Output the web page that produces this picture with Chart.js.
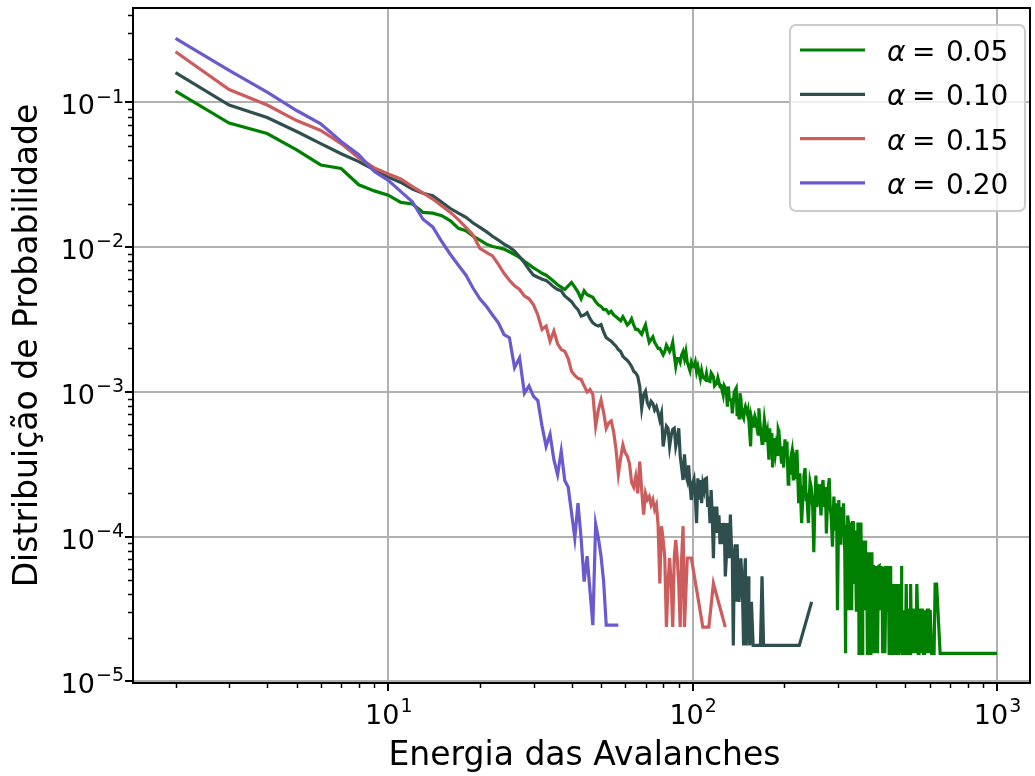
<!DOCTYPE html>
<html>
<head>
<meta charset="utf-8">
<script src="https://cdn.jsdelivr.net/npm/chart.js@4.4.0/dist/chart.umd.min.js"></script>
<style>
  html, body { margin: 0; padding: 0; background: #fff; }
  #wrap { width: 1035px; height: 776px; position: relative; }
</style>
</head>
<body>
<div id="wrap"><canvas id="avalanche"></canvas></div>
<script>
// --- DATA: [energia, probabilidade] per alpha ---
const serieA005 = [
  [2,0.120],[3,0.072],[4,0.061],[5,0.047],[6,0.037],[7,0.035],[8,0.027],[9,0.0245],[10,0.0229],
  [11,0.0204],[12,0.0199],[13,0.0174],[14,0.0172],[15,0.0165],[16,0.0152],[17,0.0135],[18,0.0130],
  [19,0.0119],[20,0.0112],[21,0.0105],[22,0.0101],[23,0.0099],[24,0.0097],[25,0.0093],[26,0.0089],
  [27,0.0085],[28,0.0080],[29,0.0076],[30,0.0072],[31,0.0069],[32,0.0066],[33,0.0064],[34,0.0061],
  [35,0.0058],[36,0.0055],[37,0.0053],[38,0.0051],[39,0.0054],[40,0.0057],[41,0.0053],[42,0.0049],
  [43,0.0044],[44,0.0050],[45,0.0047],[46,0.0046],[47,0.0045],[48,0.0042],[49,0.0040],[50,0.0039],
  [51,0.0037],[52,0.0037],[53,0.0035],[54,0.0036],[55,0.0034],[56,0.0033],[57,0.0032],[58,0.0031],
  [59,0.0033],[60,0.0031],[61,0.0029],[62,0.0030],[63,0.0032],[64,0.0029],[65,0.0027],[66,0.0027],
  [67,0.0026],[68,0.0025],[69,0.0027],[70,0.0029],[71,0.0025],[72,0.0022],[73,0.0023],[74,0.0024],
  [75,0.0022],[76,0.0021],[77,0.0020],[78,0.0020],[79,0.0019],[80,0.0018],[81,0.0019],[82,0.0021],
  [83,0.0020],[84,0.0019],[85,0.0020],[86,0.0022],[87,0.0018],[88,0.0015],[89,0.0017],[90,0.0017],
  [91,0.0016],[92,0.0018],[93,0.0019],[94,0.0017],[95,0.0019],[96,0.0016],[97,0.0015],[98,0.0014],
  [99,0.0016],[100,0.0015],[101,0.00149],[102,0.0016],[103,0.00138],[104,0.0015],[106,0.00124],
  [107,0.0014],[108,0.00127],[110,0.00122],[111,0.00134],[112,0.0012],[114,0.00118],[115,0.00135],
  [117,0.00127],[118,0.0011],[120,0.00115],[121,0.00125],[123,0.00109],[124,0.0011],[126,0.00095],
  [127,0.0011],[129,0.00103],[130,0.00079],[131,0.00109],[132,0.00088],[134,0.00088],[135,0.00071],
  [137,0.00100],[139,0.00106],[140,0.00068],[141,0.00090],[142,0.00066],[143,0.00098],[144,0.00090],
  [145,0.00071],[147,0.00066],[148,0.00075],[149,0.00079],[151,0.00071],[152,0.00075],[153,0.00064],
  [155,0.00042],[156,0.00066],[158,0.00058],[159,0.00064],[160,0.00068],[162,0.00062],[163,0.00055],
  [164,0.00051],[165,0.00077],[167,0.00055],[169,0.00044],[170,0.00047],[172,0.00064],[173,0.00058],
  [174,0.00045],[176,0.00052],[178,0.00034],[179,0.00056],[181,0.00041],[182,0.00052],[183,0.00030],
  [185,0.00048],[187,0.00038],[188,0.00042],[190,0.00036],[191,0.00055],[192,0.00053],[194,0.00040],
  [196,0.00032],[197,0.00042],[199,0.00030],[201,0.00047],[202,0.00036],[204,0.000454],[206,0.00023],
  [207,0.00031],[209,0.000274],[210,0.00035],[212,0.00039],[214,0.00025],[215,0.00036],[217,0.00033],
  [218,0.00025],[220,0.000398],[223,0.00017],[225,0.000274],[226,0.00021],[228,0.000124],[231,0.00022],
  [232,0.00026],[234,0.000297],[236,0.00018],[237,0.00020],[240,0.000124],[242,0.00020],[243,0.00024],
  [245,0.000221],[248,0.00016],[250,0.000078],[252,0.00017],[254,0.000264],[256,0.00016],[258,0.00019],
  [261,0.00023],[264,0.00014],[266,0.00021],[268,0.000246],[271,0.00016],[273,0.00022],[275,0.000105],
  [278,0.00020],[281,0.000253],[283,0.00016],[285,0.00014],[288,0.000085],[291,0.000189],[293,0.00014],
  [295,0.00011],[297,0.00017],[299,0.000031],[302,0.000179],[305,0.00009],[307,0.00016],[309,0.00010],
  [313,0.00017],[316,0.00008],[318,0.0000156],[319,0.00011],[320,0.00012],[321,0.000078],[322,0.00011],
  [323,0.00014],[325,0.000125],[326,0.000031],[327,0.00008],[328,0.000109],[329,0.00006],[330,0.000125],
  [331,0.00011],[333,0.000031],[334,0.000094],[335,0.000125],[337,0.000125],[338,0.000062],[339,0.00008],
  [340,0.000109],[341,0.000047],[342,0.000094],[343,0.00011],[344,0.000062],[345,0.000031],[346,0.000094],
  [347,0.000078],[349,0.000125],[350,0.000062],[351,0.000094],[352,0.0000156],[353,0.00008],[354,0.000109],
  [355,0.000047],[357,0.000125],[358,0.000078],[359,0.000062],[360,0.000094],[361,0.0000156],[362,0.000078],
  [363,0.000047],[365,0.000094],[366,0.000062],[368,0.000031],[369,0.000094],[370,0.000078],[372,0.000047],
  [373,0.000062],[375,0.0000156],[376,0.000078],[378,0.000047],[380,0.000062],[381,0.000031],[382,0.000078],
  [384,0.0000156],[385,0.000062],[386,0.000047],[388,0.000078],[389,0.000031],[391,0.000062],[393,0.000062],
  [394,0.0000156],[395,0.000047],[397,0.0000156],[399,0.000062],[400,0.000031],[402,0.0000625],
  [403,0.000047],[405,0.0000156],[407,0.000047],[408,0.000062],[410,0.0000625],[411,0.000031],
  [413,0.000047],[415,0.0000625],[417,0.000031],[419,0.000047],[421,0.0000156],[423,0.000031],
  [424,0.000062],[426,0.000047],[428,0.0000156],[430,0.000031],[431,0.0000625],[433,0.000031],
  [434,0.000047],[436,0.0000625],[438,0.000031],[440,0.000047],[442,0.0000156],[444,0.000031],
  [445,0.000047],[447,0.0000625],[449,0.0000156],[450,0.000031],[452,0.000047],[454,0.000031],
  [455,0.0000156],[457,0.0000156],[459,0.000031],[461,0.0000156],[463,0.000047],[465,0.000031],
  [466,0.0000156],[468,0.000031],[470,0.000047],[472,0.0000156],[474,0.0000156],[476,0.000031],
  [478,0.0000156],[480,0.000031],[482,0.000047],[484,0.000031],[485,0.0000625],[487,0.000031],
  [489,0.0000156],[491,0.0000156],[493,0.000031],[495,0.0000156],[497,0.000031],[500,0.0000156],
  [503,0.000047],[506,0.0000156],[508,0.000031],[510,0.000031],[513,0.0000156],[516,0.000031],
  [518,0.0000156],[520,0.000047],[524,0.0000156],[527,0.000031],[530,0.000031],[534,0.0000156],
  [538,0.000031],[541,0.0000156],[545,0.000047],[548,0.000031],[551,0.0000156],[554,0.000031],
  [558,0.000031],[561,0.0000156],[564,0.000031],[568,0.000031],[573,0.0000156],[578,0.0000156],
  [582,0.000031],[586,0.0000156],[590,0.000031],[596,0.000031],[600,0.0000156],[603,0.000031],
  [610,0.0000156],[617,0.0000156],[621,0.0000156],[626,0.000047],[633,0.000047],[650,0.0000156],
  [1000,0.0000156]
];

const serieA010 = [
  [2,0.161],[3,0.096],[4,0.0787],[5,0.063],[6,0.052],[7,0.0442],[8,0.039],[9,0.0343],[10,0.0305],
  [11,0.028],[12,0.0252],[13,0.0236],[14,0.0227],[15,0.0204],[16,0.0185],[17,0.0172],[18,0.0161],
  [19,0.0147],[20,0.0137],[21,0.0128],[22,0.0119],[23,0.0112],[24,0.0105],[25,0.0100],[26,0.0094],
  [27,0.0086],[28,0.0078],[29,0.0070],[30,0.0064],[31,0.0062],[32,0.0060],[33,0.0059],[34,0.0056],
  [35,0.0053],[36,0.0051],[37,0.0050],[38,0.0046],[39,0.0044],[40,0.0042],[41,0.0039],[42,0.0037],
  [43,0.00334],[44,0.0034],[45,0.00352],[46,0.0032],[47,0.0030],[48,0.0029],[49,0.00285],[50,0.00292],
  [51,0.0026],[52,0.00237],[53,0.0023],[54,0.00224],[55,0.00215],[56,0.00207],[57,0.00196],[58,0.0019],
  [59,0.00176],[60,0.0017],[61,0.00165],[62,0.00158],[63,0.0015],[64,0.00139],[65,0.00135],[66,0.00128],
  [67,0.00109],[68,0.00077],[69,0.00095],[70,0.00101],[71,0.00084],[72,0.00079],[73,0.00086],[74,0.00083],
  [75,0.00075],[76,0.00079],[77,0.00072],[78,0.00064],[79,0.00071],[80,0.00042],[81,0.00050],[82,0.00058],
  [83,0.00056],[84,0.00042],[85,0.00050],[86,0.00055],[87,0.00056],[88,0.00042],[89,0.00047],[90,0.00056],
  [91,0.00036],[92,0.00030],[93,0.000246],[94,0.00037],[95,0.000267],[96,0.000246],[97,0.00031],
  [98,0.000228],[99,0.000179],[100,0.000234],[101,0.00025],[102,0.00019],[103,0.000124],[104,0.000253],
  [105,0.00018],[106,0.000246],[107,0.00017],[108,0.00023],[109,0.00021],[110,0.00025],[111,0.000253],
  [112,0.00016],[113,0.000189],[114,0.000124],[115,0.00021],[116,0.000137],[117,0.0000708],[118,0.000161],
  [119,0.000106],[120,0.000161],[121,0.000106],[122,0.00014],[123,0.0000885],[124,0.000124],[125,0.0000885],
  [126,0.000111],[127,0.000124],[128,0.0000531],[129,0.0000708],[130,0.000124],[131,0.000106],
  [132,0.0000708],[133,0.000142],[134,0.0000885],[135,0.0000708],[136,0.0000177],[137,0.0000708],
  [138,0.0000885],[139,0.0000354],[140,0.0000885],[141,0.0000531],[142,0.0000354],[143,0.0000354],
  [144,0.0000708],[145,0.0000531],[146,0.0000354],[147,0.0000177],[148,0.0000531],[149,0.0000708],
  [150,0.0000177],[151,0.0000354],[152,0.0000531],[153,0.0000354],[154,0.0000177],[156,0.0000354],
  [158,0.0000177],[167,0.0000177],[169,0.0000531],[171,0.0000177],[224,0.0000177],[246,0.0000354]
];

const serieA015 = [
  [2,0.224],[3,0.123],[4,0.096],[5,0.075],[6,0.064],[7,0.052],[8,0.0414],[9,0.0353],[10,0.032],
  [11,0.0296],[12,0.0262],[13,0.0237],[14,0.0215],[15,0.0193],[16,0.0174],[17,0.0155],[18,0.0137],
  [19,0.0121],[20,0.0098],[21,0.0092],[22,0.0087],[23,0.0076],[24,0.0066],[25,0.0059],[26,0.0054],
  [27,0.0051],[28,0.0046],[29,0.0044],[30,0.0040],[31,0.0034],[32,0.0027],[33,0.00285],[34,0.00224],
  [35,0.00263],[36,0.00215],[37,0.00196],[38,0.00191],[39,0.0017],[40,0.00139],[41,0.00130],[42,0.00124],
  [43,0.00122],[44,0.00110],[45,0.00100],[46,0.00104],[47,0.00096],[48,0.00058],[49,0.00075],[50,0.00088],
  [51,0.00072],[52,0.00056],[53,0.00061],[54,0.00063],[55,0.00053],[56,0.00040],[57,0.00027],[58,0.00035],
  [59,0.00043],[60,0.00038],[61,0.00036],[62,0.00032],[63,0.000237],[64,0.00022],[65,0.00026],[66,0.000199],
  [67,0.00033],[68,0.00021],[69,0.000142],[70,0.000199],[71,0.00018],[72,0.000189],[73,0.000166],
  [74,0.00018],[75,0.000154],[76,0.000166],[77,0.00012],[78,0.0000474],[79,0.000118],[80,0.0000948],
  [81,0.000071],[82,0.0000237],[83,0.000047],[84,0.0000711],[85,0.000047],[86,0.0000237],[87,0.000071],
  [88,0.0000948],[89,0.0000711],[90,0.000047],[91,0.0000237],[92,0.000071],[93,0.000118],[94,0.0000237],
  [96,0.0000711],[99,0.0000711],[108,0.0000237],[113,0.0000237],[117,0.0000474],[128,0.0000237]
];

const serieA020 = [
  [2,0.277],[3,0.167],[4,0.118],[5,0.088],[6,0.0713],[7,0.0537],[8,0.0435],[9,0.0333],[10,0.029],
  [11,0.0242],[12,0.0206],[13,0.0156],[14,0.0138],[15,0.0109],[16,0.0089],[17,0.0075],[18,0.0064],
  [19,0.0052],[20,0.0044],[21,0.0039],[22,0.0034],[23,0.0030],[24,0.00249],[25,0.00237],[26,0.00147],
  [27,0.00172],[28,0.00098],[29,0.00110],[30,0.00093],[31,0.00087],[32,0.00058],[33,0.00042],[34,0.00051],
  [35,0.00034],[36,0.000268],[37,0.00039],[38,0.000244],[39,0.00022],[40,0.000146],[41,0.0000976],
  [42,0.00017],[43,0.0000976],[44,0.0000488],[45,0.0000732],[47,0.0000244],[48,0.000122],[49,0.0000976],
  [50,0.0000732],[51,0.0000488],[52,0.0000244],[57,0.0000244]
];

const alphaLabels = ['0.05', '0.10', '0.15', '0.20'];
const lineColors = ['#008000', '#2f4f4f', '#cd5c5c', '#6a5acd'];
const xTickPowers = [1, 2, 3];
const yTickPowers = [-5, -4, -3, -2, -1];
const xTitle = 'Energia das Avalanches';
const yTitle = 'Distribuição de Probabilidade';

const seriesList = [serieA005, serieA010, serieA015, serieA020];
const FONT = '"DejaVu Sans", sans-serif';

// draws 10^p with a raised exponent, like mathtext
function drawPower(ctx, p, x, baseY, align, size) {
  const sup = p < 0 ? '\u2212' + (-p) : String(p);
  ctx.font = `${size}px ${FONT}`;
  const wb = ctx.measureText('10').width;
  ctx.font = `${Math.round(size * 0.7)}px ${FONT}`;
  const ws = ctx.measureText(sup).width;
  const total = wb + ws;
  const x0 = align === 'right' ? x - total : x - total / 2;
  ctx.textAlign = 'left';
  ctx.textBaseline = 'alphabetic';
  ctx.font = `${size}px ${FONT}`;
  ctx.fillText('10', x0, baseY);
  ctx.font = `${Math.round(size * 0.7)}px ${FONT}`;
  ctx.fillText(sup, x0 + wb + 1, baseY - size * 0.44);
}

function minorValues(min, max) {
  const out = [];
  for (let p = -7; p <= 4; p++) {
    for (let k = 2; k <= 9; k++) {
      const v = k * 10 ** p;
      if (v >= min && v <= max) out.push(v);
    }
  }
  return out;
}

const decor = {
  id: 'decor',
  afterDraw(chart) {
    const { ctx, chartArea: a, scales: { x, y } } = chart;
    ctx.save();
    ctx.fillStyle = '#000';
    ctx.strokeStyle = '#000';

    // tick marks
    ctx.lineWidth = 2;
    ctx.beginPath();
    xTickPowers.forEach(p => {
      const px = Math.round(x.getPixelForValue(10 ** p));
      ctx.moveTo(px, a.bottom); ctx.lineTo(px, a.bottom + 8);
    });
    yTickPowers.forEach(p => {
      const py = Math.round(y.getPixelForValue(10 ** p));
      ctx.moveTo(a.left, py); ctx.lineTo(a.left - 8, py);
    });
    ctx.stroke();
    ctx.lineWidth = 1.5;
    ctx.beginPath();
    minorValues(x.min, x.max).forEach(v => {
      const px = Math.round(x.getPixelForValue(v)) + 0.5;
      ctx.moveTo(px, a.bottom); ctx.lineTo(px, a.bottom + 5);
    });
    minorValues(y.min, y.max).forEach(v => {
      const py = Math.round(y.getPixelForValue(v)) + 0.5;
      ctx.moveTo(a.left, py); ctx.lineTo(a.left - 5, py);
    });
    ctx.stroke();

    // frame
    ctx.lineWidth = 2;
    ctx.strokeRect(a.left, a.top, a.right - a.left, a.bottom - a.top);

    // tick labels
    xTickPowers.forEach(p => drawPower(ctx, p, x.getPixelForValue(10 ** p), a.bottom + 41, 'center', 27));
    yTickPowers.forEach(p => drawPower(ctx, p, a.left - 10, y.getPixelForValue(10 ** p) + 12, 'right', 27));

    // axis titles
    ctx.font = `33px ${FONT}`;
    ctx.textAlign = 'center';
    ctx.textBaseline = 'alphabetic';
    ctx.fillText(xTitle, (a.left + a.right) / 2 + 3, 765);
    ctx.save();
    ctx.translate(37, (a.top + a.bottom) / 2);
    ctx.rotate(-Math.PI / 2);
    ctx.fillText(yTitle, 0, 0);
    ctx.restore();

    // legend
    const lx = 790, ly = 25, lw = 235, lh = 186;
    ctx.beginPath();
    ctx.roundRect(lx, ly, lw, lh, 6);
    ctx.fillStyle = 'rgba(255,255,255,0.8)';
    ctx.fill();
    ctx.strokeStyle = '#cccccc';
    ctx.lineWidth = 2;
    ctx.stroke();
    chart.data.datasets.forEach((ds, i) => {
      const yy = 50 + i * 44.3;
      ctx.strokeStyle = ds.borderColor;
      ctx.lineWidth = 3.2;
      ctx.beginPath();
      ctx.moveTo(800, yy); ctx.lineTo(865, yy);
      ctx.stroke();
      ctx.fillStyle = '#000';
      ctx.textAlign = 'left';
      ctx.font = `italic 28px ${FONT}`;
      ctx.fillText('\u03b1', 887, yy + 11);
      ctx.font = `28px ${FONT}`;
      ctx.fillText('=', 912, yy + 11);
      ctx.fillText(ds.label, 946, yy + 11);
    });
    ctx.restore();
  }
};

new Chart(document.getElementById('avalanche'), {
  type: 'line',
  data: {
    datasets: seriesList.map((pts, i) => ({
      label: alphaLabels[i],
      data: pts.map(([e, p]) => ({ x: e, y: p })),
      borderColor: lineColors[i],
      backgroundColor: lineColors[i],
      borderWidth: 3.2,
      pointRadius: 0,
      tension: 0,
      fill: false,
      order: seriesList.length - 1 - i
    }))
  },
  options: {
    responsive: true,
    maintainAspectRatio: false,
    animation: false,
    events: [],
    layout: { padding: { top: 8, right: 5, left: 0, bottom: 0 } },
    plugins: { legend: { display: false }, tooltip: { enabled: false } },
    scales: {
      x: {
        type: 'logarithmic',
        min: 1.45,
        max: 1283,
        afterBuildTicks: s => { s.ticks = xTickPowers.map(p => ({ value: 10 ** p })); },
        afterFit: s => { s.height = 93; },
        ticks: { display: false, autoSkip: false },
        grid: { color: '#b0b0b0', lineWidth: 2, drawTicks: false },
        border: { display: false }
      },
      y: {
        type: 'logarithmic',
        min: 9.73e-6,
        max: 0.4497,
        afterBuildTicks: s => { s.ticks = yTickPowers.map(p => ({ value: 10 ** p })); },
        afterFit: s => { s.width = 133; },
        ticks: { display: false, autoSkip: false },
        grid: { color: '#b0b0b0', lineWidth: 2, drawTicks: false },
        border: { display: false }
      }
    }
  },
  plugins: [decor]
});
</script>
</body>
</html>
